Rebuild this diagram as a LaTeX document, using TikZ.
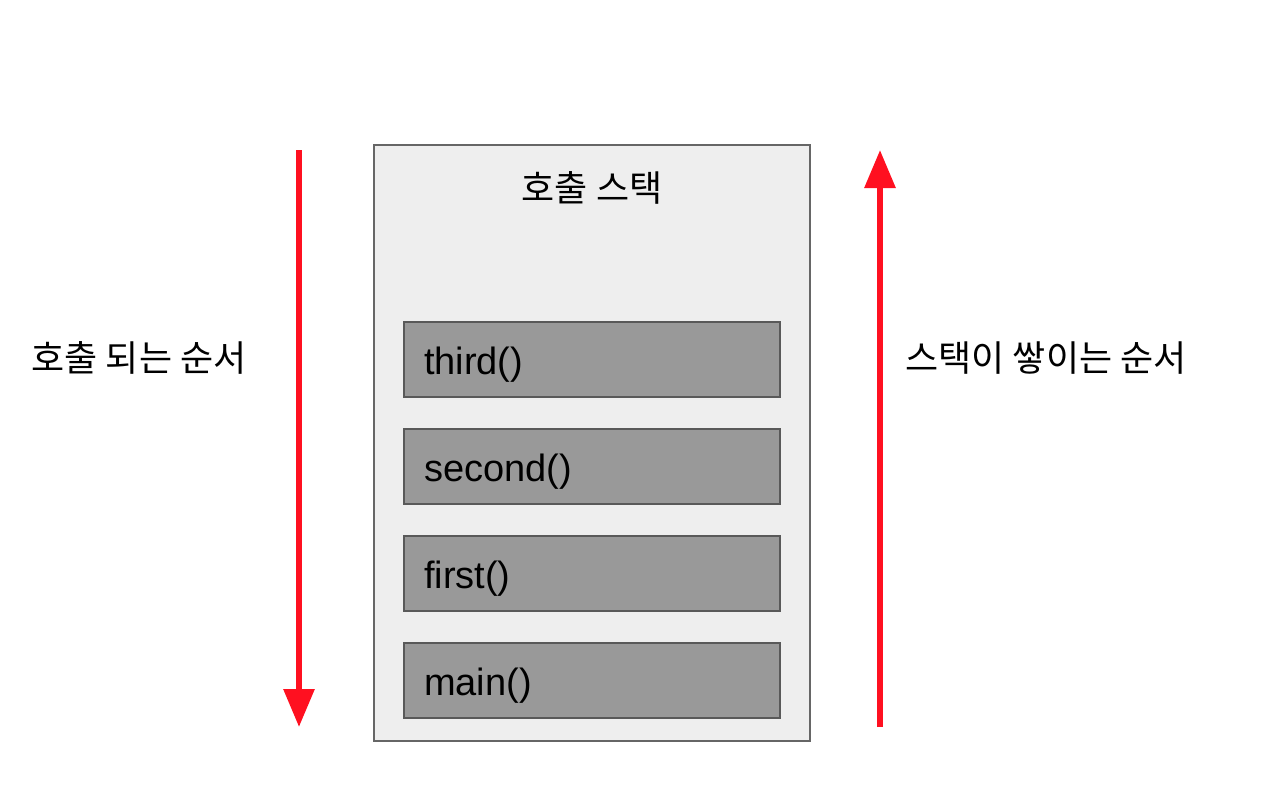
\documentclass[tikz,border=0pt]{standalone}
\usepackage{fontspec}
\setmainfont{Liberation Sans}
\newfontfamily\kr{Noto Sans CJK KR}
\usetikzlibrary{arrows.meta}
\definecolor{arrred}{RGB}{255,16,32}
\definecolor{outerfill}{RGB}{238,238,238}
\definecolor{outerdraw}{RGB}{102,102,102}
\definecolor{framefill}{RGB}{153,153,153}
\definecolor{framedraw}{RGB}{89,89,89}
\newcommand{\boxtext}[1]{\raisebox{-11.5pt}[0pt][0pt]{#1}}
\begin{document}
\begin{tikzpicture}[x=0.75pt,y=-0.75pt,
  outerbox/.style={draw=outerdraw,fill=outerfill,line width=1.5pt,minimum width=327pt,minimum height=447pt,inner sep=0pt},
  framebox/.style={draw=framedraw,fill=framefill,line width=1.1pt,minimum width=282pt,minimum height=56.25pt,inner sep=0pt,text width=252pt,align=left,font=\fontsize{28.5}{32}\selectfont},
  krlabel/.style={font=\kr\fontsize{27}{30}\selectfont,inner sep=0pt},
  redarrow/.style={draw=arrred,line width=4.5pt,-{Triangle[width=22.5pt,length=28.5pt]}}]
\path[use as bounding box,fill=white] (0,0) rectangle (1268,810);
\node[outerbox] (stack) at (592,443) {};
\node[krlabel] (title) at (592,188) {호출 스택};
\node[framebox] (third) at (592,359.5) {\boxtext{third()}};
\node[framebox] (second) at (592,466.5) {\boxtext{second()}};
\node[framebox] (first) at (592,573.5) {\boxtext{first()}};
\node[framebox] (main) at (592,680.5) {\boxtext{main()}};
\node[krlabel] (callorder) at (139,358) {호출 되는 순서};
\node[krlabel] (pushorder) at (1046,358) {스택이 쌓이는 순서};
\coordinate (la) at (299,150);
\coordinate (lb) at (299,727);
\coordinate (ra) at (880,727);
\coordinate (rb) at (880,150);
\draw[redarrow] (la) -- (lb);
\draw[redarrow] (ra) -- (rb);
\end{tikzpicture}
\end{document}
